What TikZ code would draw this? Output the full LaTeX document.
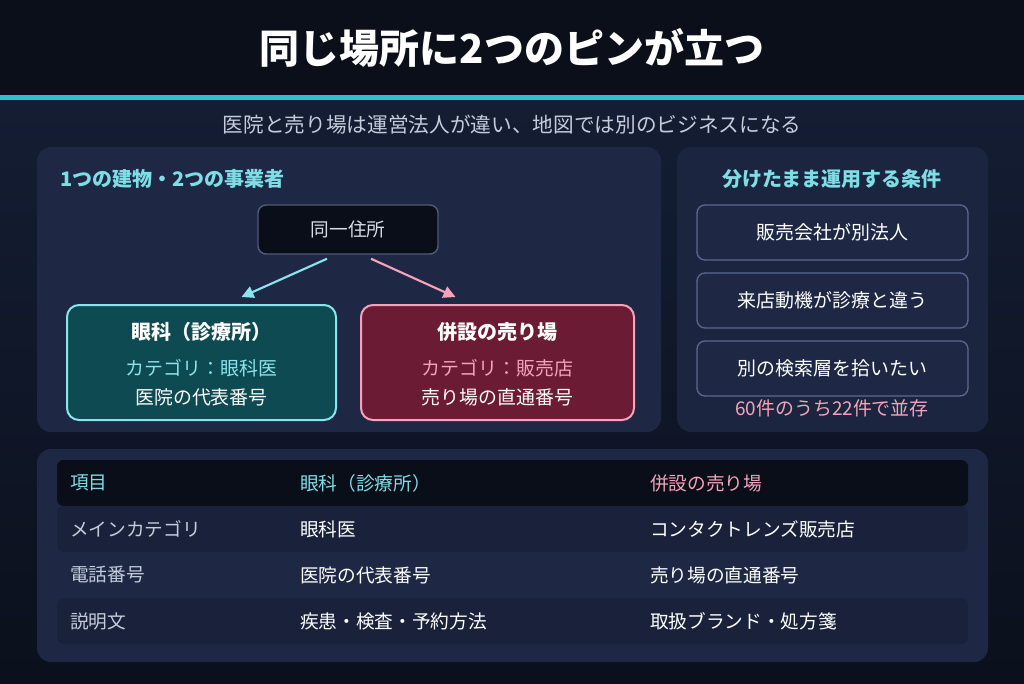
\documentclass[tikz,border=0pt]{standalone}
\usepackage{fontspec}
\setmainfont{Noto Sans CJK JP}
\usetikzlibrary{arrows.meta,calc}
\definecolor{bandbg}{HTML}{0B0F1A}
\definecolor{bgA}{HTML}{141D33}
\definecolor{bgB}{HTML}{0B101C}
\definecolor{accent}{HTML}{2CC0CA}
\definecolor{panelc}{HTML}{1E2844}
\definecolor{rpanelc}{HTML}{1B2540}
\definecolor{darkc}{HTML}{0A0E18}
\definecolor{rowc}{HTML}{19223A}
\definecolor{addrline}{HTML}{4E5A7A}
\definecolor{condline}{HTML}{5A6890}
\definecolor{cyanc}{HTML}{8AE4EC}
\definecolor{headc}{HTML}{7FDDE6}
\definecolor{pinkc}{HTML}{F4A3BA}
\definecolor{tealfill}{HTML}{0E4A52}
\definecolor{maroonfill}{HTML}{6C1B35}
\definecolor{grayt}{HTML}{C5CDDC}
\definecolor{addrt}{HTML}{D8DDE8}
\tikzset{
  txt/.style={inner sep=0pt, text=white},
  ftitle/.style={font=\fontsize{30pt}{36pt}\selectfont\bfseries},
  fsub/.style={font=\fontsize{15.5pt}{18pt}\selectfont},
  fhead/.style={font=\fontsize{15pt}{18pt}\selectfont\bfseries},
  fbox/.style={font=\fontsize{14.2pt}{17pt}\selectfont},
  fboxb/.style={font=\fontsize{15pt}{18pt}\selectfont\bfseries},
  ftab/.style={font=\fontsize{14pt}{17pt}\selectfont},
  card/.style={draw, line width=1.5pt, rounded corners=9pt, inner sep=0pt},
  condbox/.style={draw=condline, line width=1pt, fill=panelc, rounded corners=6pt,
    minimum width=203.25pt, minimum height=41.25pt, inner sep=0pt, text=white,
    font=\fontsize{14.2pt}{17pt}\selectfont},
  arr/.style={line width=1.6pt, -{Triangle[length=9pt,width=9pt]}}
}
\begin{document}
\begin{tikzpicture}[x=0.75pt,y=-0.75pt]
\useasboundingbox (0,0) rectangle (1024,683);
% background
\shade[top color=bgA, bottom color=bgB] (0,100) rectangle (1024,683);
\fill[bandbg] (0,0) rectangle (1024,95);
\fill[accent] (0,95) rectangle (1024,100);
\node[txt, ftitle] (title) at (512,48) {同じ場所に2つのピンが立つ};
\node[txt, fsub, text=grayt] (sub) at (512,125) {医院と売り場は運営法人が違い、地図では別のビジネスになる};

% left panel
\fill[panelc, rounded corners=10.5pt] (37,147) rectangle (661,432);
\node[txt, fhead, text=headc, anchor=west] (lhead) at (60,179) {1つの建物・2つの事業者};
\node[draw=addrline, line width=1.1pt, fill=darkc, rounded corners=6pt,
  minimum width=135pt, minimum height=36.75pt, inner sep=0pt, text=addrt,
  font=\fontsize{14pt}{17pt}\selectfont] (addr) at (348,229.5) {同一住所};
\node[card, draw=cyanc, fill=tealfill, minimum width=201.75pt, minimum height=86.25pt] (clinic) at (201.5,362.5) {};
\node[card, draw=pinkc, fill=maroonfill, minimum width=204.75pt, minimum height=86.25pt] (shop) at (497.5,362.5) {};
\node[txt, fboxb] (c1) at (201.5,332) {眼科（診療所）};
\node[txt, fbox, text=cyanc] (c2) at (201.5,368) {カテゴリ：眼科医};
\node[txt, fbox] (c3) at (201.5,397) {医院の代表番号};
\node[txt, fboxb] (s1) at (497.5,332) {併設の売り場};
\node[txt, fbox, text=pinkc] (s2) at (497.5,368) {カテゴリ：販売店};
\node[txt, fbox] (s3) at (497.5,397) {売り場の直通番号};
\draw[arr, cyanc] ($(addr.south)+(-21,4)$) -- ($(clinic.north)+(40,-7)$);
\draw[arr, pinkc] ($(addr.south)+(23,4)$) -- ($(shop.north)+(-42,-7)$);

% right panel
\fill[rpanelc, rounded corners=10.5pt] (677,147) rectangle (988,432);
\node[txt, fhead, text=headc] (rhead) at (832,179) {分けたまま運用する条件};
\node[condbox] (k1) at (832.5,232.5) {販売会社が別法人};
\node[condbox] (k2) at (832.5,300.5) {来店動機が診療と違う};
\node[condbox] (k3) at (832.5,368.5) {別の検索層を拾いたい};
\node[txt, fbox, text=pinkc] (note) at (832,408) {60件のうち22件で並存};

% bottom table
\fill[panelc, rounded corners=10.5pt] (37,449) rectangle (988,662);
\fill[darkc, rounded corners=5pt] (57,460) rectangle (968,506);
\fill[rowc, rounded corners=5pt] (57,506) rectangle (968,552);
\fill[rowc, rounded corners=5pt] (57,598) rectangle (968,644);
\node[txt, ftab, text=headc, anchor=west] (h1) at (70,483) {項目};
\node[txt, ftab, text=headc, anchor=west] (h2) at (300,483) {眼科（診療所）};
\node[txt, ftab, text=pinkc, anchor=west] (h3) at (650,483) {併設の売り場};
\node[txt, ftab, text=grayt, anchor=west] (r1a) at (70,529) {メインカテゴリ};
\node[txt, ftab, anchor=west] (r1b) at (300,529) {眼科医};
\node[txt, ftab, anchor=west] (r1c) at (650,529) {コンタクトレンズ販売店};
\node[txt, ftab, text=grayt, anchor=west] (r2a) at (70,575) {電話番号};
\node[txt, ftab, anchor=west] (r2b) at (300,575) {医院の代表番号};
\node[txt, ftab, anchor=west] (r2c) at (650,575) {売り場の直通番号};
\node[txt, ftab, text=grayt, anchor=west] (r3a) at (70,621) {説明文};
\node[txt, ftab, anchor=west] (r3b) at (300,621) {疾患・検査・予約方法};
\node[txt, ftab, anchor=west] (r3c) at (650,621) {取扱ブランド・処方箋};
\end{tikzpicture}
\end{document}
